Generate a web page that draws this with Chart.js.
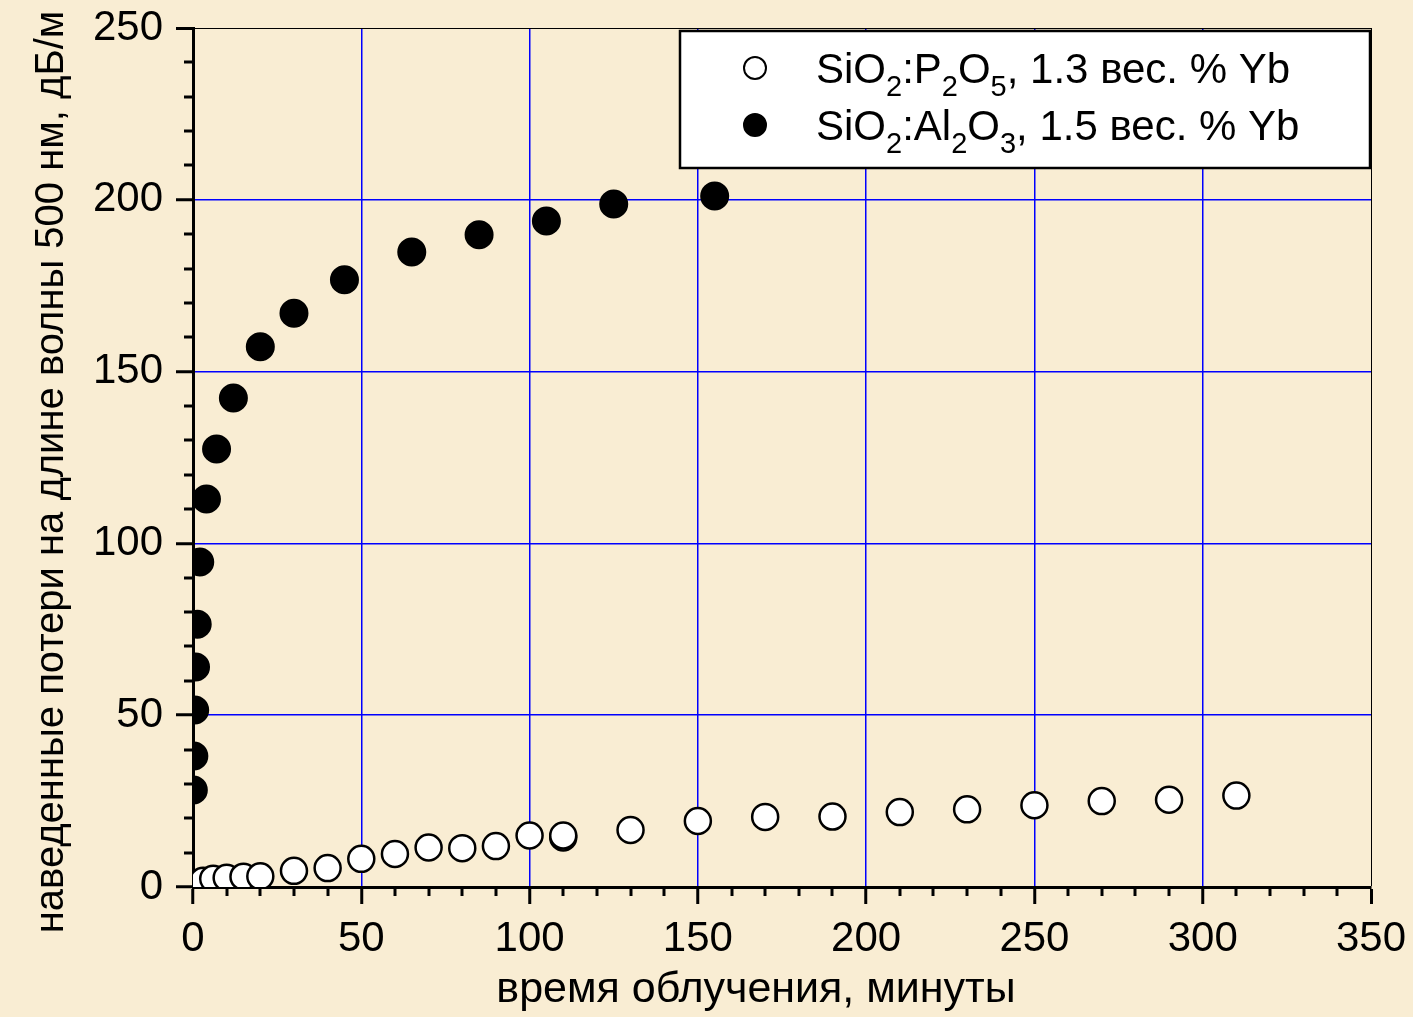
<!DOCTYPE html>
<html>
<head>
<meta charset="utf-8">
<script src="https://cdn.jsdelivr.net/npm/chart.js@4.4.1/dist/chart.umd.min.js"></script>
<style>
  html, body { margin: 0; padding: 0; background: #f9ecd1; }
  #wrap { width: 1413px; height: 1017px; }
</style>
</head>
<body>
<div id="wrap"><canvas id="myChart" width="1413" height="1017"></canvas></div>
<script>
// SiO2:P2O5 fibre, 1.3 wt % Yb
const timeP = [3, 6, 10, 15, 20, 30, 40, 50, 60, 70, 80, 90, 100, 110, 110, 130, 150, 170, 190, 210, 230, 250, 270, 290, 310];
const lossP = [1.8, 2.4, 2.7, 3.0, 3.1, 4.7, 5.5, 8.2, 9.6, 11.5, 11.3, 11.9, 15.0, 14.4, 15.0, 16.6, 19.2, 20.4, 20.5, 21.8, 22.6, 23.8, 25.0, 25.4, 26.6];

// SiO2:Al2O3 fibre, 1.5 wt % Yb
const timeAl = [0, 0.1, 0.25, 0.5, 0.75, 1.25, 2, 4, 7, 12, 20, 30, 45, 65, 85, 105, 125, 155];
const lossAl = [0, 28.2, 38.1, 51.5, 64, 76.5, 94.6, 112.9, 127.5, 142.3, 157.2, 167, 176.7, 184.8, 189.8, 193.8, 198.8, 201.1];

// legend names, split into normal / subscript pieces
const nameP = [['SiO', 0], ['2', 1], [':P', 0], ['2', 1], ['O', 0], ['5', 1], [', 1.3 вес. % Yb', 0]];
const nameAl = [['SiO', 0], ['2', 1], [':Al', 0], ['2', 1], ['O', 0], ['3', 1], [', 1.5 вес. % Yb', 0]];

const xTitle = 'время облучения, минуты';
const yTitle = 'наведенные потери на длине волны 500 нм, дБ/м';

const xMax = 350, yMax = 250, majorStep = 50, minorStep = 10;

const FONT = "'Liberation Sans', Arial, sans-serif";

function toPoints(xs, ys) {
    return xs.map((x, i) => ({x: x, y: ys[i]}));
}

// minor ticks every 10 units, outside the axes
const minorTicks = {
    id: 'minorTicks',
    afterDraw(chart) {
        const ctx = chart.ctx;
        const xs = chart.scales.x, ys = chart.scales.y;
        const a = chart.chartArea;
        ctx.save();
        ctx.strokeStyle = '#000';
        ctx.lineWidth = 3;
        for (let v = minorStep; v < xMax; v += minorStep) {
            if (v % majorStep === 0) continue;
            const px = Math.round(xs.getPixelForValue(v));
            ctx.beginPath();
            ctx.moveTo(px, a.bottom);
            ctx.lineTo(px, a.bottom + 9);
            ctx.stroke();
        }
        for (let v = minorStep; v < yMax; v += minorStep) {
            if (v % majorStep === 0) continue;
            const py = Math.round(ys.getPixelForValue(v));
            ctx.beginPath();
            ctx.moveTo(a.left, py);
            ctx.lineTo(a.left - 9, py);
            ctx.stroke();
        }
        ctx.restore();
    }
};

// axis titles
const axisTitles = {
    id: 'axisTitles',
    afterDraw(chart) {
        const ctx = chart.ctx;
        const a = chart.chartArea;
        ctx.save();
        ctx.fillStyle = '#000';
        ctx.textAlign = 'center';
        ctx.textBaseline = 'alphabetic';
        ctx.font = '43px ' + FONT;
        ctx.fillText(xTitle, a.left + 563, chart.height - 15);
        ctx.font = '40px ' + FONT;
        ctx.translate(63, a.top + 444);
        ctx.rotate(-Math.PI / 2);
        ctx.fillText(yTitle, 0, 0);
        ctx.restore();
    }
};

// framed legend with chemical subscripts
function drawName(ctx, parts, x, y) {
    for (const [txt, sub] of parts) {
        ctx.font = (sub ? '29px ' : '42px ') + FONT;
        ctx.fillText(txt, x, sub ? y + 13 : y);
        x += ctx.measureText(txt).width;
    }
}

const boxLegend = {
    id: 'boxLegend',
    afterDraw(chart) {
        const ctx = chart.ctx;
        const a = chart.chartArea;
        const bx = a.left + 487, by = a.top + 3, bw = 690, bh = 137;
        ctx.save();
        ctx.fillStyle = '#fff';
        ctx.fillRect(bx, by, bw, bh);
        ctx.strokeStyle = '#000';
        ctx.lineWidth = 2.5;
        ctx.strokeRect(bx, by, bw, bh);

        const rows = [
            {name: nameP, fill: '#fff', cy: by + 37},
            {name: nameAl, fill: '#000', cy: by + 94}
        ];
        ctx.textAlign = 'left';
        ctx.textBaseline = 'alphabetic';
        rows.forEach(r => {
            ctx.beginPath();
            ctx.arc(bx + 75, r.cy, 11, 0, Math.PI * 2);
            ctx.fillStyle = r.fill;
            ctx.fill();
            ctx.lineWidth = 2;
            ctx.strokeStyle = '#000';
            ctx.stroke();
            ctx.fillStyle = '#000';
            drawName(ctx, r.name, bx + 136, r.cy + 15);
        });
        ctx.restore();
    }
};

const bgFill = {
    id: 'bgFill',
    beforeDraw(chart) {
        const ctx = chart.ctx;
        ctx.save();
        ctx.fillStyle = '#f9edd3';
        ctx.fillRect(0, 0, chart.width, chart.height);
        ctx.restore();
    }
};

const gridColor = (ctx, max) => ctx.tick && ctx.tick.value === max ? '#000' : '#0000ff';
const gridWidth = (ctx, max) => ctx.tick && ctx.tick.value === max ? 1 : 1.5;

const config = {
    type: 'scatter',
    data: {
        datasets: [{
            label: 'SiO2:P2O5, 1.3 вес. % Yb',
            data: toPoints(timeP, lossP),
            backgroundColor: '#ffffff',
            borderColor: '#000000',
            borderWidth: 2.5,
            pointRadius: 13,
            pointHoverRadius: 13
        }, {
            label: 'SiO2:Al2O3, 1.5 вес. % Yb',
            data: toPoints(timeAl, lossAl),
            backgroundColor: '#000000',
            borderColor: '#000000',
            borderWidth: 2,
            pointRadius: 13.5,
            pointHoverRadius: 13.5
        }]
    },
    options: {
        responsive: false,
        animation: false,
        layout: {padding: {top: 28, right: 42, left: 0, bottom: 0}},
        plugins: {
            legend: {display: false},
            tooltip: {enabled: false}
        },
        scales: {
            x: {
                type: 'linear',
                min: 0,
                max: xMax,
                afterFit: (s) => {
                    s.height = 130;
                    s.paddingLeft = 0;
                    s.paddingRight = 0;
                },
                ticks: {
                    stepSize: majorStep,
                    color: '#000',
                    font: {family: FONT, size: 42},
                    padding: 10,
                    maxRotation: 0
                },
                grid: {
                    color: (c) => gridColor(c, xMax),
                    lineWidth: (c) => gridWidth(c, xMax),
                    tickColor: '#000',
                    tickWidth: 3,
                    tickLength: 17
                },
                border: {display: true, color: '#000', width: 3}
            },
            y: {
                type: 'linear',
                min: 0,
                max: yMax,
                afterFit: (s) => {
                    s.width = 193;
                    s.paddingTop = 0;
                    s.paddingBottom = 0;
                },
                ticks: {
                    stepSize: majorStep,
                    color: '#000',
                    font: {family: FONT, size: 42},
                    padding: 13
                },
                grid: {
                    color: (c) => gridColor(c, yMax),
                    lineWidth: (c) => gridWidth(c, yMax),
                    tickColor: '#000',
                    tickWidth: 3,
                    tickLength: 17
                },
                border: {display: true, color: '#000', width: 3}
            }
        }
    },
    plugins: [bgFill, minorTicks, axisTitles, boxLegend]
};

const myChart = new Chart(document.getElementById('myChart'), config);
</script>
</body>
</html>
